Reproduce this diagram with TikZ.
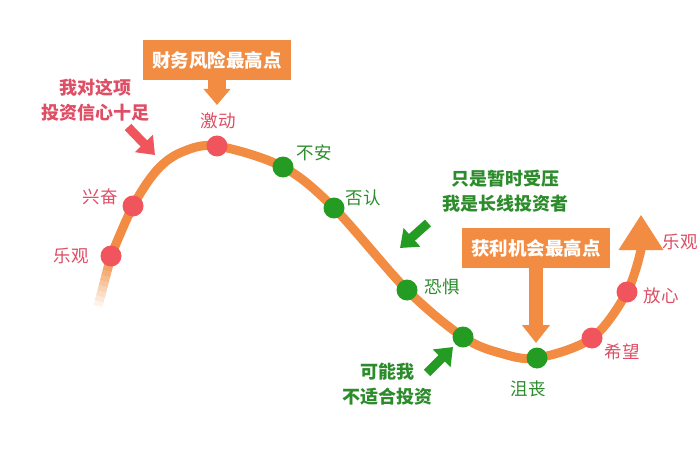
\documentclass[tikz,border=0pt]{standalone}
\usepackage{fontspec}
\newfontfamily\cjk{Noto Sans CJK SC}
\usetikzlibrary{arrows.meta, calc}
\definecolor{corange}{RGB}{242,140,66}
\definecolor{cred}   {RGB}{240,84,92}
\definecolor{cgreen} {RGB}{36,156,36}
\definecolor{tred}   {RGB}{222,78,100}
\definecolor{tgreen} {RGB}{44,140,44}

\begin{document}
\begin{tikzpicture}[x=1pt, y=-1pt,
  dot/.style={circle, minimum size=21pt, inner sep=0pt},
  reddot/.style={dot, fill=cred},
  greendot/.style={dot, fill=cgreen},
  lbl/.style={font=\cjk\fontsize{17.5}{20}\selectfont, inner sep=1pt},
  redlbl/.style={lbl, text=tred},
  greenlbl/.style={lbl, text=tgreen},
  callout/.style={fill=corange, text=white, minimum width=148pt,
                  minimum height=40pt, inner sep=0pt,
                  font=\cjk\bfseries\fontsize{18.5}{20}\selectfont},
  note/.style={align=center, inner sep=0pt,
               font=\cjk\bfseries\fontsize{18}{25}\selectfont},
  fatarrow/.style={line width=9pt, -{Triangle[width=24pt, length=16pt]}}
]
  \fill[white] (0,0) rectangle (700,457);
  \useasboundingbox (0,0) rectangle (700,457);

  % points on the curve
  \coordinate (p1)  at (111,256);
  \coordinate (p2)  at (133,206);
  \coordinate (q1)  at (157,170);
  \coordinate (q2)  at (182,152);
  \coordinate (p3)  at (217,146);
  \coordinate (p4)  at (283,167);
  \coordinate (p5)  at (334,208);
  \coordinate (p6)  at (407,290);
  \coordinate (p7)  at (463,337);
  \coordinate (q3)  at (500,353);
  \coordinate (p8)  at (537,358);
  \coordinate (p9)  at (592,338);
  \coordinate (p10) at (627,292);
  \coordinate (pend) at (641,250);
  \coordinate (ptip) at (641,215);
  \coordinate (ptail) at (98,306);

  % faded tail
  \foreach \i in {0,...,9}
    \draw[corange, line width=9pt, opacity={1-\i/10}]
      ($(p1)!{\i/10}!(ptail)$) -- ($(p1)!{(\i+1)/10}!(ptail)$);

  \draw[corange, line width=9pt, line cap=round]
    plot[smooth, tension=0.55] coordinates {(p1) (p2) (q1) (q2) (p3) (p4)
      (p5) (p6) (p7) (q3) (p8) (p9) (p10) (pend)};
  \fill[corange] (ptip) -- ($(pend)+(22.5,0)$) -- ($(pend)+(-22.5,0)$) -- cycle;

  % dots and labels
  \node[reddot]   (optimism) at (p1) {};
  \node[reddot]   (excite)   at (p2) {};
  \node[reddot]   (thrill)   at (p3) {};
  \node[greendot] (anxiety)  at (p4) {};
  \node[greendot] (denial)   at (p5) {};
  \node[greendot] (fear)     at (p6) {};
  \node[greendot] (doubt)    at (p7) {};
  \node[greendot] (despond)  at (p8) {};
  \node[reddot]   (hope)     at (p9) {};
  \node[reddot]   (relief)   at (p10) {};

  \node[redlbl]   (optimismL) at (71,256)  {乐观};
  \node[redlbl]   (exciteL)   at (100,197) {兴奋};
  \node[redlbl]   (thrillL)   at (218,121) {激动};
  \node[greenlbl] (anxietyL)  at (314,153) {不安};
  \node[greenlbl] (denialL)   at (363,198) {否认};
  \node[greenlbl] (fearL)     at (442,287) {恐惧};
  \node[greenlbl] (despondL)  at (528,389) {沮丧};
  \node[redlbl]   (hopeL)     at (622,352) {希望};
  \node[redlbl]   (reliefL)   at (661,296) {放心};
  \node[redlbl]   (againL)    at (680,242) {乐观};

  % callouts
  \node[callout] (riskBox)   at (217,60)  {财务风险最高点};
  \node[callout] (profitBox) at (536,248) {获利机会最高点};
  \coordinate (riskTip)   at (217,105);
  \coordinate (profitTip) at (536,343);
  \draw[corange, line width=18pt, -{Triangle[width=26pt, length=16pt]}]
    (riskBox.south) -- (riskTip);
  \draw[corange, line width=14pt, -{Triangle[width=27pt, length=18pt]}]
    (profitBox.south) -- (profitTip);

  % notes
  \node[note, text=tred]   (confNote) at (95,100)
    {我对这项\\投资信心十足};
  \node[note, text=tgreen] (holdNote) at (505,191)
    {只是暂时受压\\我是长线投资者};
  \node[note, text=tgreen] (quitNote) at (387,384)
    {可能我\\不适合投资};
  \coordinate (confA) at (128,127);  \coordinate (confB) at (155,155);
  \coordinate (holdA) at (428,223);  \coordinate (holdB) at (400,248);
  \coordinate (quitA) at (427,373);  \coordinate (quitB) at (453,347);
  \draw[fatarrow, cred]   (confA) -- (confB);
  \draw[fatarrow, cgreen] (holdA) -- (holdB);
  \draw[fatarrow, cgreen] (quitA) -- (quitB);
\end{tikzpicture}
\end{document}
